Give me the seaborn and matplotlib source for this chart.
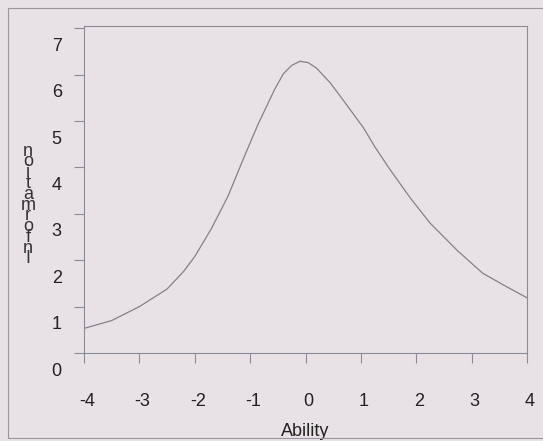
import matplotlib
matplotlib.use("Agg")
import matplotlib.pyplot as plt
import matplotlib.transforms as mtransforms
from matplotlib.patches import Rectangle
import pandas as pd
import seaborn as sns

# test information curve
ability = [-4.0, -3.5, -3.0, -2.5, -2.2, -2.0, -1.7, -1.4, -1.1, -0.85, -0.55, -0.4,
           -0.25, -0.1, 0.05, 0.2, 0.45, 0.7, 1.05, 1.25, 1.5, 1.9, 2.25, 2.75, 3.2,
           3.6, 4.0]
information = [0.53, 0.70, 1.00, 1.38, 1.76, 2.08, 2.68, 3.38, 4.25, 4.95, 5.7, 6.02,
               6.2, 6.29, 6.26, 6.14, 5.82, 5.42, 4.85, 4.45, 4.0, 3.33, 2.80, 2.20,
               1.72, 1.45, 1.19]
xticks = [-4, -3, -2, -1, 0, 1, 2, 3, 4]
yticks = [0, 1, 2, 3, 4, 5, 6, 7]
ylabel = "Information"

bg = "#e8e2e6"
ink = "#857f8e"

sns.set_theme(style="ticks")
plt.rcParams["font.family"] = ["Liberation Sans", "DejaVu Sans"]

df = pd.DataFrame({"Ability": ability, "Information": information})

fig = plt.figure(figsize=(5.43, 4.41), dpi=100, facecolor=bg)
ax = fig.add_axes([84 / 543, 88 / 441, 443 / 543, 327 / 441])
ax.set_facecolor(bg)

sns.lineplot(data=df, x="Ability", y="Information", ax=ax, color=ink, linewidth=0.9)

ax.set_xlim(-4, 4)
ax.set_ylim(0, 7.05)
ax.set_xticks(xticks)
ax.set_yticks(yticks)
ax.set_xticklabels([str(t) for t in xticks], fontsize=13, color="#222222")
ax.set_yticklabels([str(t) for t in yticks], fontsize=13, color="#222222")
ax.tick_params(axis="both", direction="out", length=7, width=0.8, color="#8a8a98")
ax.tick_params(axis="x", pad=22)
ax.tick_params(axis="y", pad=9)
for s in ax.spines.values():
    s.set_color("#8a8a98")
    s.set_linewidth(0.8)

# the scan has the value labels sitting a little below their ticks
shift_y = mtransforms.ScaledTranslation(0, -16 / 100, fig.dpi_scale_trans)
for lab in ax.get_yticklabels():
    lab.set_transform(lab.get_transform() + shift_y)
shift_x = mtransforms.ScaledTranslation(3 / 100, 0, fig.dpi_scale_trans)
for lab in ax.get_xticklabels():
    lab.set_transform(lab.get_transform() + shift_x)

ax.set_xlabel("Ability", fontsize=13, color="#222222", labelpad=9)
ax.set_ylabel("")

# stacked, overlapping letters of the axis title
fig.text(28 / 543, 1 - 205 / 441, "\n".join(reversed(ylabel)), fontsize=13,
         color="#333333", ha="center", va="center", linespacing=0.52)

# outer frame of the scanned figure
fig.patches.append(Rectangle((8 / 543, 3 / 441), 1.0, 430 / 441, transform=fig.transFigure,
                             fill=False, edgecolor="#9a96a0", linewidth=0.8))

fig.savefig("out.png", dpi=100, facecolor=bg)
